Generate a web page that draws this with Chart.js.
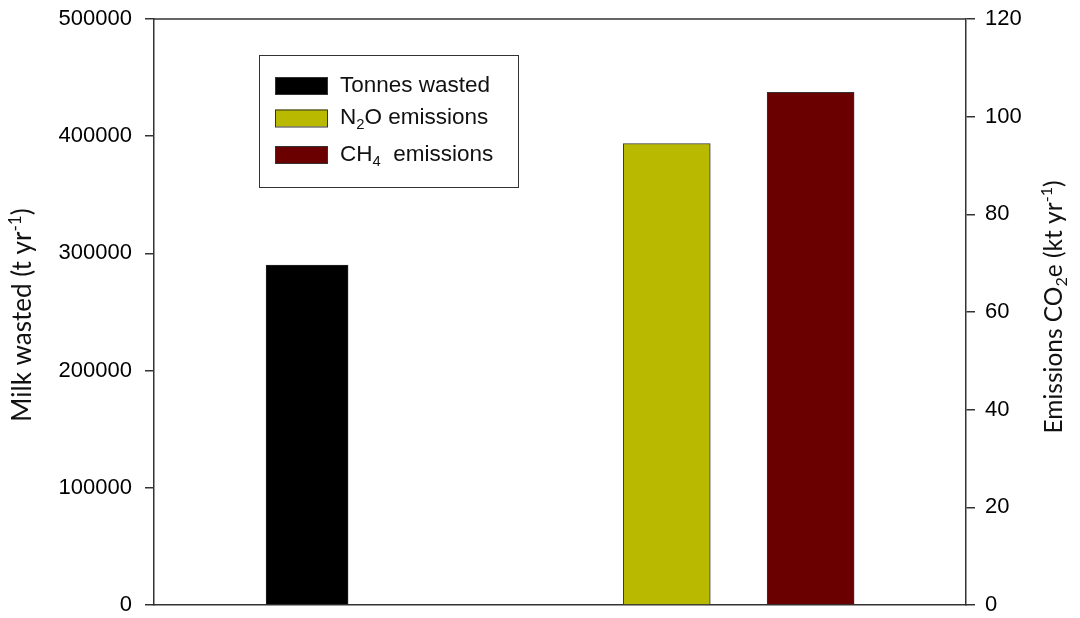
<!DOCTYPE html>
<html>
<head>
<meta charset="utf-8">
<script src="https://cdn.jsdelivr.net/npm/chart.js@4.4.1/dist/chart.umd.min.js"></script>
<style>
  body { margin: 0; background: #fff; }
  #wrap { width: 1080px; height: 618px; position: relative; }
</style>
</head>
<body>
<div id="wrap"><canvas id="myChart"></canvas></div>
<script>
// data
const categories = ['Tonnes wasted', 'N2O emissions', 'CH4 emissions'];
const slots = [1, 3.5, 4.5];
const values = [290000, 94.5, 105];
const axisIds = ['y', 'y1', 'y1'];
const colours = ['#000000', '#b9b900', '#6b0000'];
const leftTitle = [{ t: 'Milk wasted (t yr' }, { t: '-1', sup: true }, { t: ')' }];
const rightTitle = [{ t: 'Emissions CO' }, { t: '2', sub: true }, { t: 'e (kt yr' }, { t: '-1', sup: true }, { t: ')' }];
const legendText = [
    [{ t: 'Tonnes wasted' }],
    [{ t: 'N' }, { t: '2', sub: true }, { t: 'O emissions' }],
    [{ t: 'CH' }, { t: '4', sub: true }, { t: '  emissions' }]
];

const tickFont = '"Liberation Sans", Arial, sans-serif';
const titleFont = 'Lato, sans-serif';

function drawRich(ctx, parts, x, y, size, family, center) {
    let w = 0;
    const ws = parts.map(p => {
        ctx.font = ((p.sub || p.sup) ? size * 0.66 : size) + 'px ' + family;
        const m = ctx.measureText(p.t).width;
        w += m;
        return m;
    });
    let cx = center ? x - w / 2 : x;
    parts.forEach((p, i) => {
        ctx.font = ((p.sub || p.sup) ? size * 0.66 : size) + 'px ' + family;
        const dy = p.sub ? size * 0.32 : (p.sup ? -size * 0.3 : 0);
        ctx.fillText(p.t, cx, y + dy);
        cx += ws[i];
    });
}

const extras = {
    id: 'extras',
    afterDraw(chart) {
        const ctx = chart.ctx;
        const a = chart.chartArea;
        ctx.save();
        // top frame line
        ctx.strokeStyle = '#333';
        ctx.lineWidth = 1.5;
        ctx.beginPath();
        ctx.moveTo(a.left, a.top);
        ctx.lineTo(a.right, a.top);
        ctx.stroke();

        // axis titles
        ctx.fillStyle = '#111';
        ctx.textBaseline = 'middle';
        ctx.textAlign = 'left';
        ctx.save();
        ctx.translate(23, 315);
        ctx.rotate(-Math.PI / 2);
        drawRich(ctx, leftTitle, 0, 0, 26, titleFont, true);
        ctx.restore();
        ctx.save();
        ctx.translate(1054, 307);
        ctx.rotate(-Math.PI / 2);
        drawRich(ctx, rightTitle, 0, 0, 24.5, titleFont, true);
        ctx.restore();

        // legend box
        const bx = 259, by = 55, bw = 259, bh = 132;
        ctx.fillStyle = '#fff';
        ctx.fillRect(bx, by, bw, bh);
        ctx.strokeStyle = '#333';
        ctx.lineWidth = 1;
        ctx.strokeRect(bx + 0.5, by + 0.5, bw, bh);
        const rows = [85.5, 118, 154.5];
        chart.data.datasets.forEach((ds, i) => {
            ctx.fillStyle = ds.backgroundColor;
            ctx.fillRect(275, rows[i] - 8.5, 52, 17);
            ctx.strokeStyle = '#333';
            ctx.strokeRect(275.5, rows[i] - 8, 52, 17);
            ctx.fillStyle = '#111';
            drawRich(ctx, legendText[i], 340, rows[i], 22.5, tickFont, false);
        });
        ctx.restore();
    }
};

const datasets = categories.map((c, i) => ({
    label: c,
    data: [{ x: slots[i], y: values[i] }],
    yAxisID: axisIds[i],
    backgroundColor: colours[i],
    borderColor: i === 0 ? '#222' : '#333',
    borderWidth: 1,
    barThickness: i === 0 ? 82 : 87
}));

function fitY(width) {
    return s => {
        s.width = width;
        s.paddingTop = 0;
        s.paddingBottom = 0;
    };
}

const ctx = document.getElementById('myChart').getContext('2d');
new Chart(ctx, {
    type: 'bar',
    data: { datasets: datasets },
    plugins: [extras],
    options: {
        responsive: true,
        maintainAspectRatio: false,
        animation: false,
        grouped: false,
        layout: { padding: { top: 19, left: 0, right: 0, bottom: 0 } },
        plugins: { legend: { display: false }, tooltip: { enabled: false } },
        scales: {
            x: {
                type: 'linear',
                min: -0.064,
                max: 5.58,
                offset: false,
                ticks: { display: false },
                grid: { display: false },
                border: { display: true, color: '#333', width: 1.5 },
                afterFit: s => { s.height = 13; s.paddingLeft = 0; s.paddingRight = 0; }
            },
            y: {
                position: 'left',
                min: 0,
                max: 500000,
                ticks: {
                    stepSize: 100000,
                    padding: 13,
                    color: '#000',
                    font: { family: tickFont, size: 22 },
                    callback: v => String(v)
                },
                grid: { display: true, drawOnChartArea: false, drawTicks: true, tickLength: 9, color: '#333', lineWidth: 1.5 },
                border: { display: true, color: '#333', width: 1.5 },
                afterFit: fitY(154)
            },
            y1: {
                position: 'right',
                min: 0,
                max: 120,
                ticks: {
                    stepSize: 20,
                    padding: 10,
                    color: '#000',
                    font: { family: tickFont, size: 22 },
                    callback: v => String(v)
                },
                grid: { display: true, drawOnChartArea: false, drawTicks: true, tickLength: 9, color: '#333', lineWidth: 1.5 },
                border: { display: true, color: '#333', width: 1.5 },
                afterFit: fitY(114)
            }
        }
    }
});
</script>
</body>
</html>
